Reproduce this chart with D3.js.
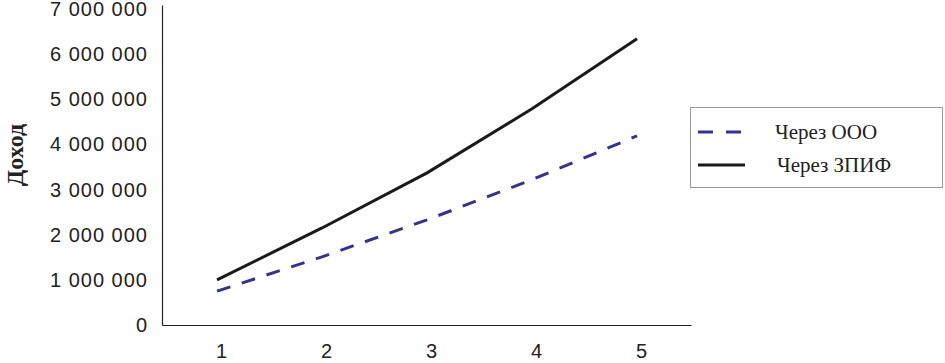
<!DOCTYPE html>
<html>
<head>
<meta charset="utf-8">
<script src="https://cdn.jsdelivr.net/npm/d3@7"></script>
<style>
    body { margin: 0; background: #fff; }
    svg { display: block; }
    .serif { font-family: "Liberation Serif", "DejaVu Serif", "Times New Roman", serif; }
</style>
</head>
<body>
<div id="graph"></div>
<script>
"use strict";
(function() {
    const svgSize = {
        width : 945,
        height: 363,
    };

    // data
    const years = [1, 2, 3, 4, 5];
    const viaOOO = [750000, 1510000, 2330000, 3220000, 4190000];
    const viaZPIF = [1000000, 2150000, 3370000, 4790000, 6340000];
    const yTicks = [0, 1000000, 2000000, 3000000, 4000000, 5000000, 6000000, 7000000];
    const seriesNames = ["Через ООО", "Через ЗПИФ"];

    const fmt = (v) => d3.format(",")(v).replace(/,/g, " ");

    window.addEventListener("load", init);

    function init() {
        let svg = d3.select("#graph")
                    .append("svg")
                        .attr("width", svgSize.width)
                        .attr("height", svgSize.height);

        let xScale = d3.scaleLinear()
                        .domain([0.476, 5.514])
                        .range([162, 691]);
        let yScale = d3.scaleLinear()
                        .domain([0, 7090000])
                        .range([325, 5]);

        /***
         * axes
         */
        let xAxis = svg.append("g")
            .attr("transform", "translate(0,325)")
            .call(d3.axisBottom(xScale).tickValues(years).tickSize(0).tickPadding(19)
                    .tickFormat(d3.format("d")));
        let yAxis = svg.append("g")
            .attr("transform", "translate(162,0)")
            .call(d3.axisLeft(yScale).tickValues(yTicks).tickSize(0).tickPadding(14)
                    .tickFormat(fmt));

        [xAxis, yAxis].forEach((ax) => {
            ax.select(".domain").attr("stroke", "#222").attr("stroke-width", 1.2);
            ax.selectAll("text")
                .attr("fill", "#222")
                .style("font-family", "'Liberation Sans', Arial, sans-serif")
                .style("font-size", "20px");
        });
        xAxis.selectAll("text").attr("dx", 4);
        yAxis.selectAll("text").style("letter-spacing", "1px");

        svg.append("text")
            .attr("class", "serif")
            .attr("transform", "translate(23,155) rotate(-90)")
            .attr("text-anchor", "middle")
            .style("font-weight", "bold")
            .style("font-size", "24px")
            .attr("fill", "#222")
            .text("Доход");

        /*********
         *  lines
         */
        let line = d3.line()
            .x((d, i) => xScale(years[i]))
            .y((d) => yScale(d));

        svg.append("path")
            .datum(viaOOO)
            .attr("d", line)
            .attr("fill", "none")
            .attr("stroke", "#34348f")
            .attr("stroke-width", 3)
            .attr("stroke-dasharray", "14,12");

        svg.append("path")
            .datum(viaZPIF)
            .attr("d", line)
            .attr("fill", "none")
            .attr("stroke", "#1a1a1a")
            .attr("stroke-width", 3);

        drawLegend(svg);
    }

    function drawLegend(svg) {
        let lg = svg.append("g");
        lg.append("rect")
            .attr("x", 690.5)
            .attr("y", 107.5)
            .attr("width", 252)
            .attr("height", 80)
            .attr("fill", "#fff")
            .attr("stroke", "#9a9a9a")
            .attr("stroke-width", 1);

        let styles = [
            { stroke: "#34348f", dash: "15,13", y: 132 },
            { stroke: "#1a1a1a", dash: null, y: 165 }
        ];
        styles.forEach((s, i) => {
            lg.append("line")
                .attr("x1", 698)
                .attr("x2", 745)
                .attr("y1", s.y)
                .attr("y2", s.y)
                .attr("stroke", s.stroke)
                .attr("stroke-width", 3)
                .attr("stroke-dasharray", s.dash);
            lg.append("text")
                .attr("class", "serif")
                .attr("x", i == 0 ? 775 : 777)
                .attr("y", s.y)
                .attr("dy", "0.35em")
                .style("font-size", "21px")
                .attr("fill", "#222")
                .text(seriesNames[i]);
        });
    }
})();
</script>
</body>
</html>
